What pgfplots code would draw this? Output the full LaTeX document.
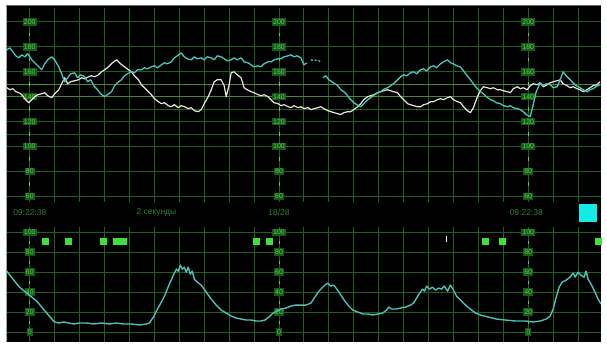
\documentclass[border=0pt]{standalone}
\usepackage{fontspec}
\setmainfont{Liberation Sans}
\usepackage{pgfplots}
\pgfplotsset{compat=1.18}
\definecolor{gridg}{RGB}{32,95,32}
\definecolor{gridb}{RGB}{75,130,60}
\definecolor{labg}{RGB}{80,215,80}
\definecolor{labbg}{RGB}{24,88,24}
\definecolor{fhrA}{RGB}{70,200,190}
\definecolor{fhrB}{RGB}{235,230,222}
\definecolor{tococ}{RGB}{75,195,185}
\definecolor{mk}{RGB}{60,225,60}
\definecolor{txtg}{RGB}{45,130,45}
\definecolor{sq}{RGB}{20,235,230}
\pgfplotsset{ctg/.style={scale only axis, width=596pt, xmin=5, xmax=601,
  axis line style={draw=none}, tick style={draw=none}, xticklabels={}, yticklabels={},
  xtick={28,53,...,578}, grid=major, major grid style={gridg, line width=0.9pt},
  clip=true}}
\tikzset{lab/.style={font=\fontsize{7}{8}\selectfont, text=labg, fill=labbg, inner sep=1.3pt}}
\begin{document}
\begin{tikzpicture}[x=1pt,y=1pt]
\fill[white] (0,0) rectangle (607,347);
\fill[black] (5,4) rectangle (601,341);
\draw[black!35, line width=1.5pt] (4.5,4) -- (4.5,342);
\draw[black!60, line width=1.2pt] (4,341.8) -- (601,341.8);
% ---------- FHR panel ----------
\begin{axis}[ctg, at={(5pt,144pt)}, anchor=south west, height=195pt, ymin=55.2, ymax=211.2,
  ytick={60,80,100,110,120,130,160,180,200},
  extra y ticks={140,150}, extra y tick labels={{},{}},
  extra y tick style={grid=major, major grid style={gridb, line width=0.9pt}}]
\addplot[only marks, mark=|, mark size=1.8pt, labg, line width=0.8pt] coordinates {
(28,190)(28,170)(28,150)(28,130)(28,110)(28,90)(28,70)
(278,190)(278,170)(278,150)(278,130)(278,110)(278,90)(278,70)
(528,190)(528,170)(528,150)(528,130)(528,110)(528,90)(528,70)};
\pgfplotsinvokeforeach{28,278,528}{
  \node[lab] at (axis cs:#1,200) {200};
  \node[lab] at (axis cs:#1,180) {180};
  \node[lab] at (axis cs:#1,160) {160};
  \node[lab] at (axis cs:#1,140) {140};
  \node[lab] at (axis cs:#1,120) {120};
  \node[lab] at (axis cs:#1,100) {100};
  \node[lab] at (axis cs:#1,80) {80};
  \node[lab] at (axis cs:#1,60) {60};
}
% white trace (FHR 2)
\addplot[fhrB, line width=1.2pt, line join=round] coordinates {
(5,147.2)(8,145.6)(11,146.4)(14,144.0)(17,143.2)(20,141.6)(23,138.4)(27,135.2)(30,137.6)(33,140.0)
(36,141.6)(40,142.4)(43,143.2)(46,140.8)(50,139.2)(53,142.4)(57,145.6)(60,150.4)(63,155.2)(66,150.4)
(69,152.0)(73,152.8)(77,153.6)(80,155.2)(83,154.4)(87,156.0)(90,156.8)(93,156.0)(97,157.6)(100,160.0)
(103,161.6)(107,164.0)(111,167.2)(115,169.6)(119,166.4)(123,164.0)(127,161.6)(130,160.0)(133,156.8)(137,153.6)
(140,149.6)(143,147.2)(147,144.0)(150,141.6)(153,138.4)(157,136.0)(160,134.4)(163,135.2)(167,132.8)(170,132.0)
(173,133.6)(177,131.2)(180,132.8)(183,132.0)(187,130.4)(190,131.2)(193,128.8)(197,128.0)(200,129.6)(203,134.4)
(207,140.0)(210,145.6)(213,152.0)(216,153.6)(220,153.6)(223,148.8)(225,140.0)(228,149.6)(230,159.2)(233,160.0)
(236,157.6)(240,155.2)(243,147.2)(246,145.6)(250,144.0)(253,143.2)(257,141.6)(260,140.8)(263,141.6)(267,140.0)
(270,137.6)(273,135.2)(277,134.4)(280,132.8)(283,133.6)(287,132.0)(290,131.2)(293,132.8)(297,131.2)(300,132.0)
(303,130.4)(307,131.2)(310,129.6)(313,130.4)(317,131.2)(320,132.0)(323,130.4)(327,128.8)(330,128.0)(333,127.2)
(337,126.4)(340,125.6)(343,127.2)(347,128.0)(350,128.0)(353,129.6)(357,132.0)(360,134.4)(363,137.6)(367,140.0)
(370,140.8)(373,141.6)(377,143.2)(380,144.0)(383,144.8)(387,145.6)(390,144.8)(393,144.0)(397,143.2)(400,140.0)
(403,137.6)(407,134.4)(410,133.6)(413,132.8)(417,132.0)(420,132.0)(423,133.6)(427,134.4)(430,136.0)(433,136.0)
(437,137.6)(440,138.4)(443,137.6)(447,139.2)(450,140.0)(453,137.6)(457,136.0)(460,135.2)(463,132.0)(467,128.8)
(470,127.2)(473,131.2)(477,140.0)(480,144.8)(483,148.0)(487,147.2)(490,146.4)(493,147.2)(497,145.6)(500,145.6)
(503,144.8)(507,144.0)(510,143.2)(513,146.4)(517,148.0)(520,146.4)(523,147.2)(527,145.6)(530,148.8)(533,150.4)
(537,149.6)(540,151.2)(543,148.0)(547,149.6)(550,151.2)(553,152.0)(557,152.8)(560,153.6)(563,150.4)(567,148.8)
(570,147.2)(573,148.0)(577,146.4)(580,145.6)(583,144.0)(587,145.6)(590,147.2)(593,148.8)(597,149.6)(600,152.0)};
% cyan trace (FHR 1)
\addplot[fhrA, line width=1.3pt, line join=round] coordinates {
(5,177.6)(8,179.2)(11,176.0)(14,172.8)(17,171.2)(20,173.6)(23,172.0)(26,174.4)(30,169.6)(33,167.2)
(36,164.8)(40,161.6)(43,166.4)(46,169.6)(50,172.0)(53,169.6)(57,164.0)(60,158.4)(63,152.0)(66,155.2)
(69,158.4)(73,159.2)(76,155.2)(79,157.6)(83,156.0)(86,152.0)(89,153.6)(93,148.0)(96,145.6)(99,142.4)
(103,140.0)(106,141.6)(110,144.0)(113,148.8)(116,151.2)(120,153.6)(123,156.8)(126,158.4)(130,160.0)(133,159.2)
(136,161.6)(140,161.6)(143,163.2)(146,162.4)(150,164.0)(153,164.8)(156,163.2)(160,165.6)(163,167.2)(166,166.4)
(170,168.0)(173,171.2)(176,172.8)(180,175.2)(183,172.0)(186,170.4)(190,169.6)(193,172.0)(196,170.4)(200,171.2)
(203,169.6)(206,172.0)(210,171.2)(213,169.6)(216,172.8)(220,172.0)(223,170.4)(226,168.8)(230,169.6)(233,171.2)
(236,169.6)(240,171.2)(243,168.0)(247,167.2)(250,165.6)(253,164.0)(257,164.8)(260,164.0)(263,166.4)(267,168.0)
(270,168.0)(273,169.6)(277,170.4)(280,170.4)(283,172.0)(287,172.8)(290,173.6)(293,172.0)(296,172.8)(300,171.2)
(303,165.6)(306,167.2)};
\addplot[fhrA, line width=1.3pt, dash pattern=on 2pt off 2pt] coordinates {(310,169.6)(313,168.8)(316,169.6)(320,168.0)};
\addplot[fhrA, line width=1.3pt, line join=round] coordinates {
(322,155.2)(325,156.8)(328,153.6)(331,152.0)(334,150.4)(337,148.8)(340,145.6)(343,144.0)(346,141.6)(349,138.4)
(353,135.2)(356,133.6)(360,132.0)(363,134.4)(367,137.6)(370,139.2)(374,141.6)(377,143.2)(380,144.0)(384,146.4)
(387,147.2)(390,148.8)(394,151.2)(397,153.6)(400,156.0)(403,157.6)(406,156.8)(410,159.2)(413,160.0)(416,158.4)
(420,161.6)(423,162.4)(426,160.8)(430,164.0)(433,164.8)(436,163.2)(440,166.4)(443,168.0)(447,169.6)(450,167.2)
(453,166.4)(456,164.8)(460,164.0)(463,160.8)(466,157.6)(470,153.6)(473,150.4)(476,147.2)(480,144.0)(483,142.4)
(486,140.0)(490,137.6)(493,136.8)(496,135.2)(500,134.4)(503,132.8)(507,132.0)(510,132.8)(513,131.2)(517,130.4)
(520,129.6)(523,128.0)(526,125.6)(530,124.0)(533,133.6)(536,144.0)(540,151.2)(543,148.8)(546,150.4)(550,149.6)
(553,147.2)(557,148.0)(560,153.6)(563,160.0)(566,156.8)(570,153.6)(573,151.2)(576,148.8)(580,147.2)(583,145.6)
(587,144.0)(590,145.6)(593,146.4)(596,148.0)(600,149.6)};
\end{axis}
% ---------- strip ----------
\node[text=txtg, font=\fontsize{8.5}{9}\selectfont] at (28,134) {09:22:38};
\node[text=txtg, font=\fontsize{8.5}{9}\selectfont] at (155,134) {2 секунды};
\node[text=txtg, font=\fontsize{8.5}{9}\selectfont] at (278,134) {18/28};
\node[text=txtg, font=\fontsize{8.5}{9}\selectfont] at (526,134) {09:22:38};
\fill[sq] (579,124) rectangle (597,142);
% ---------- TOCO panel ----------
\begin{axis}[ctg, at={(5pt,4pt)}, anchor=south west, height=115pt, ymin=-10, ymax=105,
  ytick={0,20,40,60,80,100}]
\addplot[only marks, mark=|, mark size=1.5pt, labg, line width=0.8pt] coordinates {
(28,90)(28,70)(28,50)(28,30)(28,10)
(278,90)(278,70)(278,50)(278,30)(278,10)
(528,90)(528,70)(528,50)(528,30)(528,10)};
\pgfplotsinvokeforeach{28,278,528}{
  \node[lab] at (axis cs:#1,100) {100};
  \node[lab] at (axis cs:#1,80) {80};
  \node[lab] at (axis cs:#1,60) {60};
  \node[lab] at (axis cs:#1,40) {40};
  \node[lab] at (axis cs:#1,20) {20};
  \node[lab] at (axis cs:#1,0) {0};
}
\addplot[only marks, mark=square*, mark size=3pt, mk] coordinates {
(43,91)(67,91)(102,91)(115,91)(122,91)(255,91)(268,91)(485,91)(502,91)(598,91)};
\addplot[only marks, mark=|, mark size=3pt, white, line width=0.8pt] coordinates {(446,93)};
\addplot[tococ, line width=1.4pt, line join=round] coordinates {
(5,61)(8,57)(12,52)(16,47)(20,43)(25,39)(30,35)(35,31)(40,25)(45,19)
(50,13)(53,10)(57,9)(62,10)(67,9)(72,8)(78,9)(85,9)(92,8)(100,9)
(108,8)(115,9)(122,8)(130,8)(138,7)(145,8)(148,9)(152,15)(156,23)(160,30)
(164,38)(168,48)(172,57)(175,63)(177,61)(179,67)(181,63)(183,65)(185,60)(187,65)
(189,58)(191,61)(193,53)(196,50)(200,47)(205,40)(210,33)(215,27)(220,22)(225,19)
(230,16)(235,14)(240,13)(245,12)(250,12)(255,11)(260,11)(264,12)(268,15)(272,19)
(276,21)(280,23)(285,24)(290,26)(295,27)(300,27)(305,27)(310,29)(314,35)(318,41)
(321,44)(324,47)(327,49)(330,46)(333,47)(336,43)(340,37)(344,31)(348,26)(352,22)
(357,20)(362,18)(367,18)(372,17)(377,18)(382,19)(386,22)(388,25)(391,23)(395,23)
(400,24)(405,25)(410,27)(413,29)(416,34)(419,39)(422,43)(424,41)(426,46)(429,43)
(432,45)(435,42)(438,44)(441,43)(444,46)(447,41)(450,47)(453,42)(456,36)(460,32)
(465,27)(470,23)(475,19)(480,17)(488,15)(496,13)(505,12)(515,11)(525,11)(533,10)
(540,11)(546,13)(550,16)(553,23)(556,35)(559,45)(562,50)(566,52)(570,55)(573,59)
(575,55)(578,60)(581,57)(584,55)(586,61)(588,53)(591,48)(595,40)(598,33)(601,28)};
\end{axis}
\end{tikzpicture}
\end{document}
